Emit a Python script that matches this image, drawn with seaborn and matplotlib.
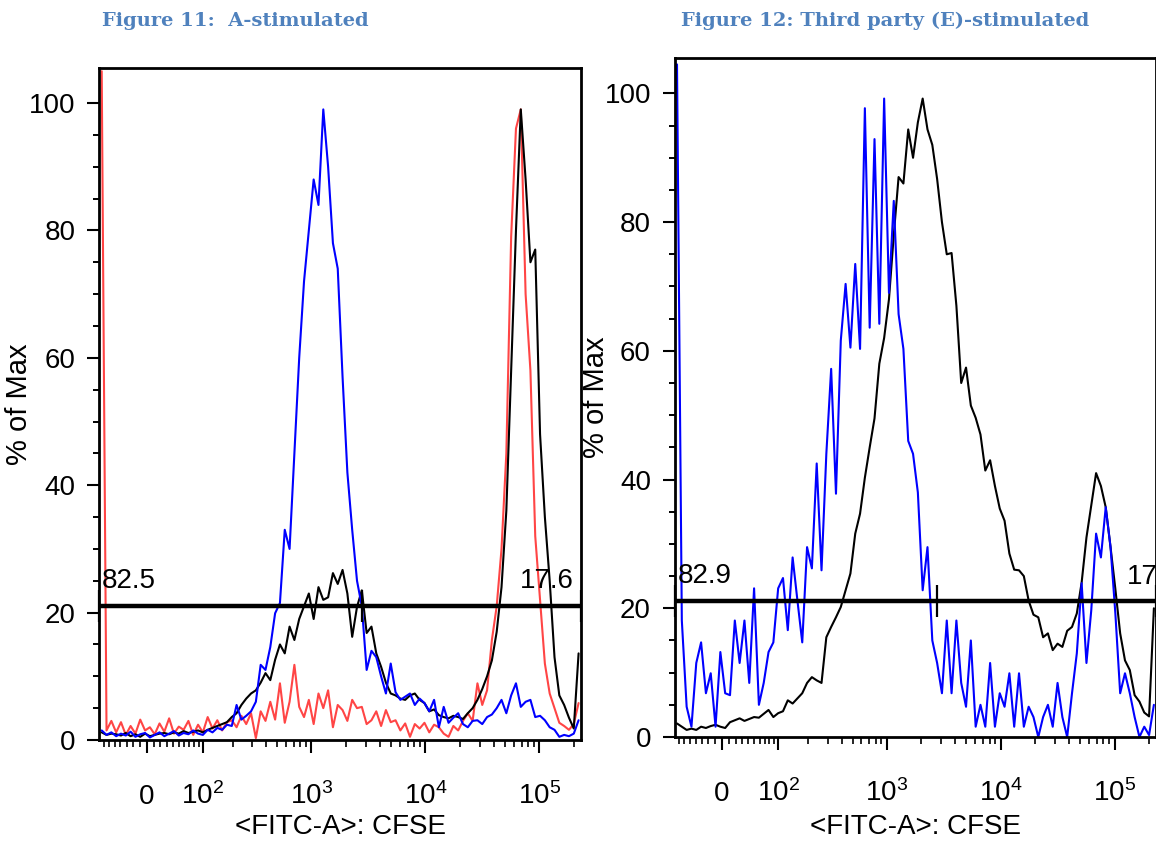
import numpy as np
import matplotlib
matplotlib.use("Agg")
import matplotlib.pyplot as plt
import matplotlib.transforms as mtransforms
from matplotlib.ticker import FixedLocator, NullFormatter
import seaborn as sns

# ---------------- data (% of Max per channel) ----------------
p1_blue = [1.5, 0.8, 1.2, 0.6, 1.0, 0.7, 1.3, 0.5, 0.9, 1.1, 0.4, 0.8, 1.2, 0.6, 1.0, 1.4, 0.7, 1.1, 0.9, 1.5, 1.0, 0.8, 1.6, 1.2, 1.9,
           1.6, 2.4, 2.2, 5.5, 3.2, 3.8, 4.5, 6.0, 11.8, 11.0, 14.6, 19.9, 21.5, 33.0, 30.0, 45.0, 60.0, 72.0, 80.0, 88.0, 84.0, 99.0, 90.0, 78.0, 74.0,
           57.0, 42.0, 33.0, 25.0, 21.0, 11.0, 14.0, 13.0, 10.0, 7.3, 12.0, 7.5, 6.3, 6.8, 7.3, 5.5, 6.5, 5.8, 4.5, 6.3, 2.0, 5.2, 2.7, 3.5, 4.2,
           2.5, 2.0, 3.0, 3.1, 2.5, 3.6, 4.0, 5.0, 6.3, 4.2, 7.0, 8.9, 5.2, 6.0, 6.3, 3.6, 3.8, 3.1, 2.0, 1.6, 0.5, 0.8, 0.6, 1.0, 3.1]
p1_black = [1.2, 0.8, 1.0, 0.9, 0.7, 1.1, 0.6, 0.9, 0.5, 1.0, 0.6, 0.8, 1.0, 1.1, 0.9, 1.2, 1.0, 1.4, 1.1, 1.3, 1.5, 1.2, 1.6, 1.9, 2.2,
            2.5, 2.8, 3.6, 4.2, 5.5, 6.5, 7.3, 7.8, 9.0, 10.5, 9.4, 12.6, 15.0, 13.6, 17.8, 15.7, 19.0, 21.0, 23.0, 19.0, 24.0, 22.0, 22.4, 26.2, 24.5,
            26.7, 23.0, 16.2, 20.9, 23.5, 16.8, 17.8, 13.6, 11.5, 9.0, 7.3, 7.0, 6.5, 6.3, 7.0, 7.3, 6.3, 5.8, 4.5, 4.8, 3.9, 3.6, 3.4, 3.8, 3.6,
            3.3, 4.2, 5.0, 6.3, 8.0, 10.0, 12.5, 17.0, 24.0, 36.0, 58.0, 80.0, 99.0, 88.0, 75.0, 77.0, 48.0, 35.0, 25.0, 13.0, 7.0, 5.5, 3.5, 1.8, 13.6]
p1_red = [105.0, 1.5, 3.0, 1.2, 2.8, 0.8, 2.2, 1.0, 3.2, 1.5, 2.0, 0.9, 2.6, 1.3, 3.4, 1.0, 2.1, 1.6, 3.0, 0.8, 2.4, 1.2, 3.6, 1.8, 3.1,
          1.5, 2.8, 3.1, 2.0, 3.8, 2.5, 4.2, 0.3, 4.5, 3.0, 6.0, 3.2, 8.9, 2.7, 6.0, 11.8, 5.2, 3.6, 6.3, 2.5, 7.3, 5.0, 7.8, 2.0, 5.5,
          4.7, 3.0, 6.3, 5.0, 5.2, 2.5, 3.1, 4.5, 2.2, 4.7, 2.8, 3.1, 1.5, 2.6, 0.5, 2.5, 1.8, 2.7, 1.2, 2.4, 2.0, 1.0, 0.5, 2.2, 1.5,
          3.0, 4.2, 3.0, 8.9, 5.5, 7.8, 15.7, 21.0, 30.0, 45.0, 79.0, 96.0, 99.0, 70.0, 58.0, 32.0, 22.0, 12.0, 7.3, 5.0, 2.7, 2.2, 1.6, 2.5, 5.8]

p2_blue = [104.5, 18.1, 4.7, 1.6, 11.5, 14.7, 6.8, 9.9, 1.6, 13.2, 6.8, 6.5, 18.1, 11.5, 18.1, 8.4, 23.1, 5.0, 8.4, 13.2, 14.7, 23.1, 24.7, 16.6, 27.9,
           21.2, 14.7, 29.5, 26.2, 42.5, 25.9, 44.0, 57.2, 37.8, 61.6, 70.4, 60.5, 73.5, 60.3, 97.7, 63.6, 92.9, 64.2, 99.2, 69.0, 83.3, 65.7, 60.3, 46.0, 44.0,
           38.0, 22.8, 29.5, 15.0, 11.5, 6.8, 18.1, 6.8, 18.1, 8.4, 4.7, 15.0, 1.6, 5.0, 1.6, 11.5, 1.6, 6.8, 4.7, 9.9, 1.6, 9.9, 1.6, 4.7, 3.1,
           0.0, 3.1, 5.0, 1.6, 8.4, 3.1, 0.0, 6.8, 13.0, 23.9, 11.5, 19.7, 31.6, 27.9, 35.7, 29.5, 19.2, 6.8, 9.9, 6.8, 3.1, 0.0, 1.6, 0.3, 5.0]
p2_black = [2.1, 1.6, 1.1, 1.3, 1.1, 1.6, 1.4, 1.7, 1.9, 1.6, 1.4, 2.3, 2.6, 2.9, 2.5, 2.8, 3.1, 3.0, 3.6, 4.2, 3.1, 3.7, 4.0, 5.7, 5.2,
            6.0, 6.8, 8.4, 9.3, 8.8, 8.4, 15.5, 17.1, 18.6, 20.2, 22.8, 25.4, 31.6, 34.7, 40.3, 45.0, 49.5, 58.0, 62.0, 68.0, 78.0, 87.0, 86.0, 94.4, 90.0,
            95.5, 99.2, 94.4, 92.0, 86.7, 80.0, 75.0, 75.2, 67.0, 55.0, 57.4, 51.5, 49.6, 47.0, 41.4, 43.0, 39.0, 35.5, 33.6, 28.5, 26.0, 25.9, 25.0, 21.2, 19.0,
            18.6, 15.5, 16.1, 13.5, 14.5, 14.0, 16.5, 17.1, 19.2, 24.0, 31.0, 36.0, 41.0, 39.0, 35.7, 29.5, 23.0, 16.1, 11.9, 10.4, 6.5, 5.5, 3.8, 3.2, 20.0]

gate_labels_1 = ["82.5", "17.6"]
gate_labels_2 = ["82.9", "17"]
major_ticks = [0, 1e2, 1e3, 1e4, 1e5]
major_labels = ["0", r"$\mathregular{10^{2}}$", r"$\mathregular{10^{3}}$",
                r"$\mathregular{10^{4}}$", r"$\mathregular{10^{5}}$"]
y_ticks = [0, 20, 40, 60, 80, 100]
titles = ["Figure 11:  A-stimulated", "Figure 12: Third party (E)-stimulated"]
x_label = "<FITC-A>: CFSE"
y_label = "% of Max"

# ---------------- scale / layout constants ----------------
W = 72.0
X_MIN, X_MAX = -80.0, 232500.0
GATE_Y = 21.1
GATE_SPLIT = 2770.0
GATE_HALF = 2.5
Y_MAX = 105.5


def fwd(x):
    return np.arcsinh(np.asarray(x, dtype=float) / W)


def inv(u):
    return W * np.sinh(np.asarray(u, dtype=float))


minor_ticks = ([-m for m in range(10, 80, 10)] + list(range(10, 100, 10)) +
               [m * 10 ** k for k in (2, 3, 4) for m in range(2, 10)] + [2e5])
y_minor = [v for v in range(5, 105, 5) if v % 20]

sns.set_style("white")
plt.rcParams["font.family"] = ["Liberation Sans Narrow", "Liberation Sans", "DejaVu Sans"]
for key in ("text.color", "axes.labelcolor", "xtick.color", "ytick.color", "axes.edgecolor"):
    plt.rcParams[key] = "black"

fig = plt.figure(figsize=(11.56, 8.42), dpi=100)
ax1 = fig.add_axes([99.3 / 1156, 102 / 842, 481.7 / 1156, 672 / 842])
ax2 = fig.add_axes([674.6 / 1156, 105 / 842, 481.7 / 1156, 679 / 842])

BLUE, BLACK, RED = "#0000FF", "#000000", "#FF4545"
TICK_FS = 20


def channels(n):
    ue = np.linspace(fwd(X_MIN), fwd(X_MAX), n + 1)
    return inv((ue[:-1] + ue[1:]) / 2)


def style_axes(ax, ylab_x, xlab_y):
    ax.set_xscale("function", functions=(fwd, inv))
    ax.set_xlim(X_MIN, X_MAX)
    ax.set_ylim(0, Y_MAX)
    for s in ax.spines.values():
        s.set_visible(True)
        s.set_linewidth(2.0)
        s.set_color("black")
    ax.xaxis.set_major_locator(FixedLocator(major_ticks))
    ax.xaxis.set_minor_locator(FixedLocator(minor_ticks))
    ax.xaxis.set_minor_formatter(NullFormatter())
    ax.set_xticklabels(major_labels)
    ax.set_yticks(y_ticks)
    ax.yaxis.set_minor_locator(FixedLocator(y_minor))
    ax.tick_params(axis="both", which="both", direction="out", color="black",
                   labelcolor="black", bottom=True, left=True, top=False, right=False)
    ax.tick_params(axis="x", which="major", length=9, width=1.5, pad=37, labelsize=TICK_FS)
    ax.tick_params(axis="x", which="minor", length=5, width=1.2)
    ax.tick_params(axis="y", which="major", length=9, width=1.5, pad=8, labelsize=TICK_FS)
    ax.tick_params(axis="y", which="minor", length=4, width=1.4)
    for lbl in ax.get_xticklabels():
        lbl.set_verticalalignment("baseline")
    ax.set_xlabel(x_label, fontsize=20, color="black")
    ax.xaxis.set_label_coords(0.5, xlab_y)
    ax.set_ylabel(y_label, fontsize=21, color="black", family=["Liberation Sans", "DejaVu Sans"])
    ax.yaxis.set_label_coords(ylab_x, 0.5)
    ax.grid(False)


def gate(ax, labels):
    ax.hlines(GATE_Y, X_MIN, X_MAX, color="black", lw=3.2, zorder=5)
    ax.vlines([X_MIN, GATE_SPLIT, X_MAX], GATE_Y - GATE_HALF, GATE_Y + GATE_HALF,
              color="black", lw=1.6, zorder=5, clip_on=False)
    tr = mtransforms.blended_transform_factory(ax.transAxes, ax.transData)
    ax.text(0.006, 23.9, labels[0], transform=tr, ha="left", va="baseline",
            fontsize=TICK_FS, color="black")
    return tr


# panel 1
x1 = channels(len(p1_blue))
sns.lineplot(x=x1, y=p1_red, ax=ax1, color=RED, linewidth=1.5, estimator=None, sort=False)
sns.lineplot(x=x1, y=p1_black, ax=ax1, color=BLACK, linewidth=1.5, estimator=None, sort=False)
sns.lineplot(x=x1, y=p1_blue, ax=ax1, color=BLUE, linewidth=1.5, estimator=None, sort=False)
style_axes(ax1, -0.1376, -0.110)
tr1 = gate(ax1, gate_labels_1)
ax1.text(0.984, 23.9, gate_labels_1[1], transform=tr1, ha="right", va="baseline",
         fontsize=TICK_FS, color="black")

# panel 2
x2 = channels(len(p2_blue))
sns.lineplot(x=x2, y=p2_black, ax=ax2, color=BLACK, linewidth=1.5, estimator=None, sort=False)
sns.lineplot(x=x2, y=p2_blue, ax=ax2, color=BLUE, linewidth=1.5, estimator=None, sort=False)
style_axes(ax2, -0.134, -0.1134)
tr2 = gate(ax2, gate_labels_2)
ax2.text(0.9386, 23.8, gate_labels_2[1], transform=tr2, ha="left", va="baseline",
         fontsize=TICK_FS, color="black")

# titles
for xc, t in zip([235 / 1156, 885 / 1156], titles):
    fig.text(xc, 1 - 26.5 / 842, t, ha="center", va="baseline", family="DejaVu Serif",
             weight="bold", fontsize=14, color="#4F81BD")

fig.savefig("out.png", dpi=100)
